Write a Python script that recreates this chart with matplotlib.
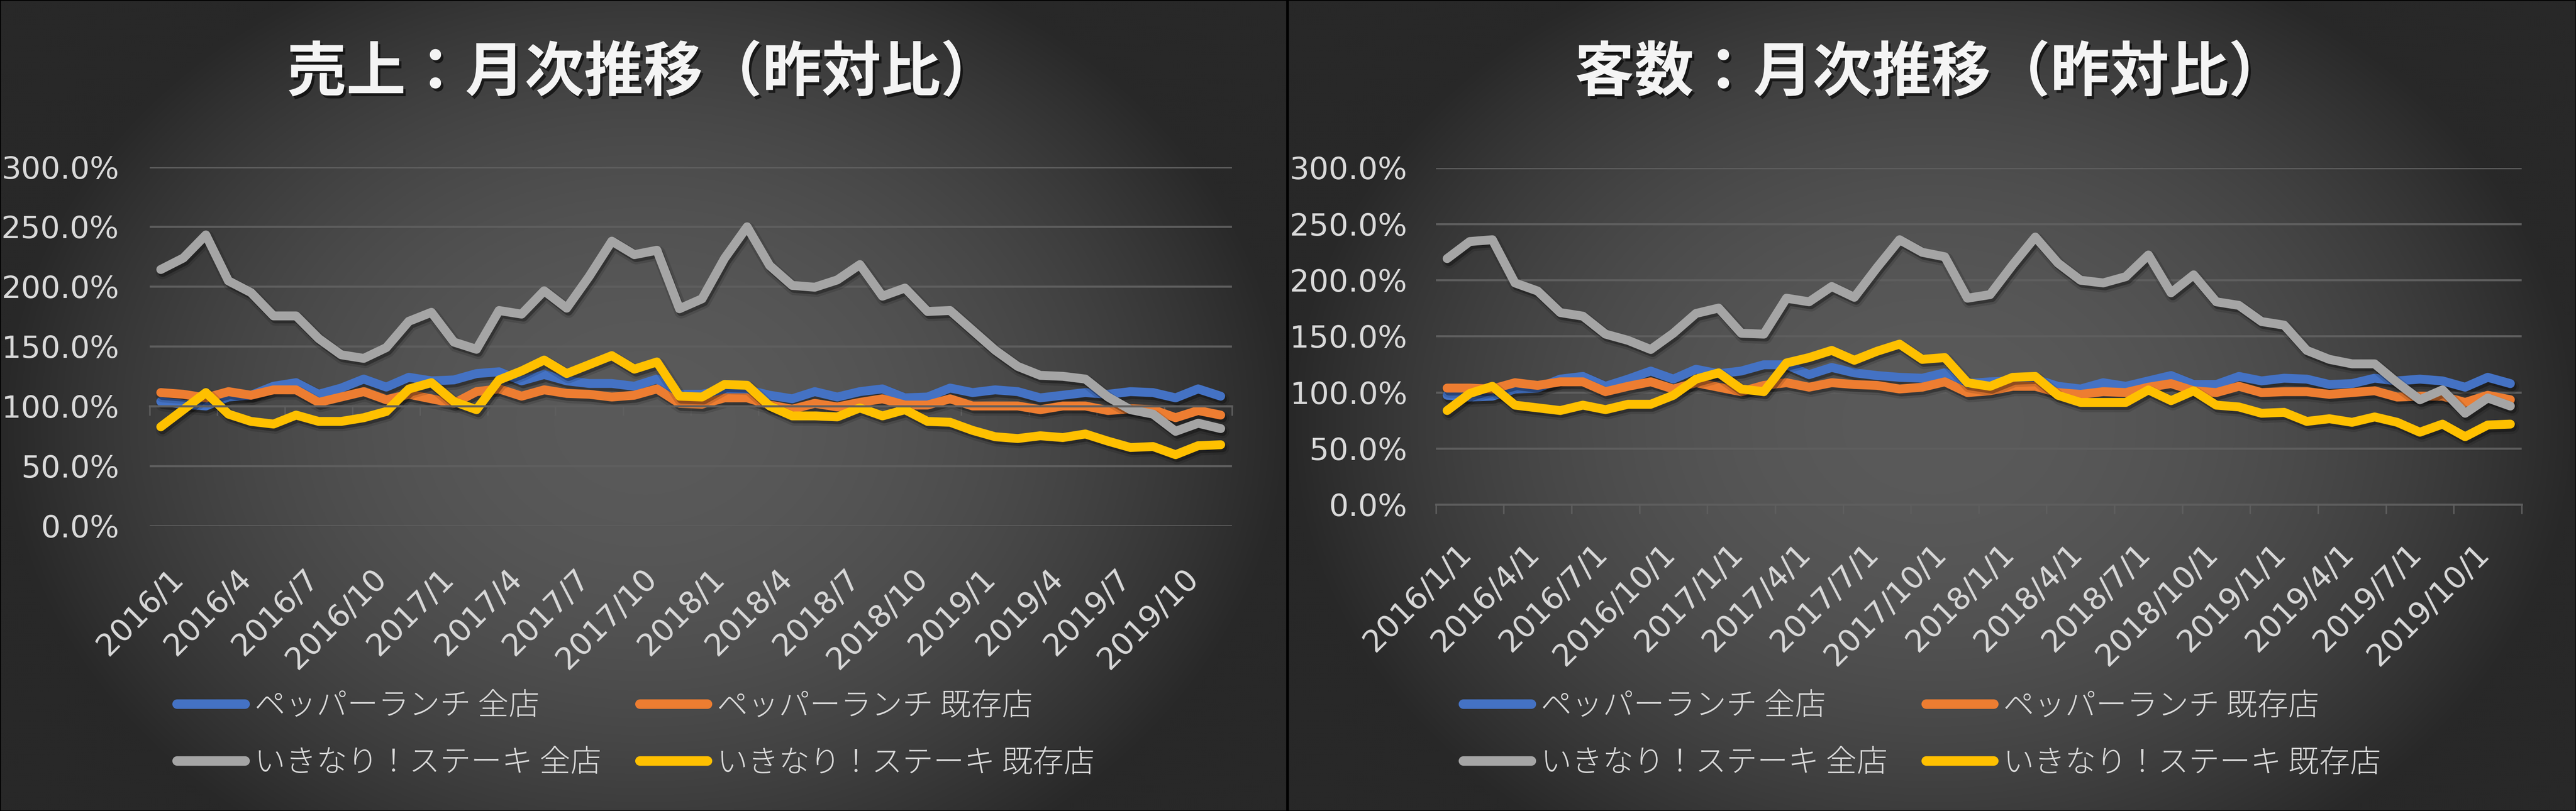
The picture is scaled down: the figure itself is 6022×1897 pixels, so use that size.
import numpy as np
import matplotlib
matplotlib.use('Agg')
import matplotlib.pyplot as plt
import matplotlib.patheffects as pe
from matplotlib.lines import Line2D
from matplotlib.patches import Rectangle
from matplotlib.transforms import ScaledTranslation

plt.rcParams['font.family'] = ['Noto Sans CJK JP', 'DejaVu Sans']

# ---- data (year-on-year %, monthly 2016/1 .. 2019/12) ----
sales_titles = '売上：月次推移（昨対比）'
customers_title = '客数：月次推移（昨対比）'
series_names = ['ペッパーランチ 全店', 'ペッパーランチ 既存店',
                'いきなり！ステーキ 全店', 'いきなり！ステーキ 既存店']

sales_labels = ['2016/1', '2016/4', '2016/7', '2016/10', '2017/1', '2017/4', '2017/7', '2017/10',
                '2018/1', '2018/4', '2018/7', '2018/10', '2019/1', '2019/4', '2019/7', '2019/10']
customers_labels = ['2016/1/1', '2016/4/1', '2016/7/1', '2016/10/1', '2017/1/1', '2017/4/1',
                    '2017/7/1', '2017/10/1', '2018/1/1', '2018/4/1', '2018/7/1', '2018/10/1',
                    '2019/1/1', '2019/4/1', '2019/7/1', '2019/10/1']

sales_pepper_all = [103.9, 101.7, 100.2, 107.7, 109.2, 116.7, 119.7, 110.0, 115.2, 122.7, 116.0, 124.2,
                    121.2, 122.0, 127.3, 128.8, 121.2, 126.5, 121.2, 119.0, 119.0, 116.7, 122.7, 110.0,
                    110.0, 113.7, 113.7, 109.2, 106.2, 112.2, 107.7, 112.2, 114.5, 107.0, 107.7, 115.2,
                    111.4, 113.7, 112.2, 107.0, 109.2, 111.4, 110.0, 112.2, 111.4, 107.0, 114.5, 108.4]
sales_pepper_existing = [111.4, 110.0, 107.0, 112.2, 109.2, 113.7, 113.7, 103.2, 107.7, 112.2, 105.4, 110.0,
                         106.2, 102.4, 112.2, 114.5, 108.4, 113.7, 110.7, 110.0, 107.7, 109.2, 114.5, 102.4,
                         101.7, 107.0, 107.0, 101.0, 97.5, 102.4, 99.4, 103.2, 106.2, 101.0, 101.0, 106.2,
                         100.2, 100.2, 100.2, 97.1, 100.2, 100.2, 96.4, 97.9, 97.1, 90.4, 96.4, 92.6]
sales_ikinari_all = [214.3, 223.9, 243.2, 204.8, 195.0, 175.5, 175.5, 156.6, 143.0, 140.0, 149.0, 171.0,
                     178.5, 153.6, 147.6, 180.0, 177.0, 196.5, 182.0, 208.6, 238.0, 226.7, 230.4, 181.5,
                     189.8, 223.6, 250.0, 217.6, 201.0, 199.5, 205.6, 218.4, 192.0, 198.8, 179.2, 180.0,
                     163.4, 146.8, 133.3, 125.8, 125.0, 122.7, 107.7, 97.1, 93.4, 79.0, 85.8, 81.3]
sales_ikinari_existing = [82.8, 97.1, 111.4, 93.4, 87.3, 85.1, 92.6, 87.3, 87.3, 90.4, 95.6, 114.4,
                          119.7, 103.9, 97.1, 122.0, 129.5, 138.6, 127.3, 134.8, 142.3, 131.0, 137.0, 108.4,
                          107.7, 118.2, 117.5, 100.2, 91.9, 91.9, 91.1, 98.6, 91.9, 97.1, 87.3, 86.6,
                          79.8, 74.5, 73.0, 75.3, 73.8, 76.8, 70.8, 65.5, 66.3, 59.5, 67.0, 67.8]

customers_pepper_all = [97.3, 95.7, 96.5, 102.9, 103.7, 111.7, 114.1, 105.3, 111.7, 118.9, 111.7, 120.5,
                        116.5, 118.9, 124.5, 124.5, 115.7, 122.1, 117.3, 114.9, 113.3, 112.5, 117.3, 107.7,
                        109.3, 110.1, 111.7, 105.3, 102.9, 108.5, 105.3, 110.1, 114.9, 106.9, 106.9, 114.1,
                        110.1, 112.5, 111.7, 106.9, 107.7, 112.5, 110.1, 111.7, 110.1, 104.5, 113.3, 107.7]
customers_pepper_existing = [103.7, 103.7, 102.9, 108.5, 106.1, 109.3, 109.3, 100.5, 105.3, 109.3, 102.9, 108.5,
                             104.5, 100.5, 106.1, 108.5, 104.5, 108.5, 106.9, 106.1, 102.9, 104.5, 109.3, 99.7,
                             101.3, 105.3, 105.3, 99.7, 98.1, 100.5, 99.7, 104.5, 107.7, 101.3, 99.7, 105.3,
                             99.7, 100.5, 100.5, 98.1, 99.7, 101.3, 95.7, 96.5, 96.5, 90.9, 97.3, 93.3]
customers_ikinari_all = [219.1, 234.3, 235.9, 197.4, 190.2, 171.0, 167.8, 151.8, 146.2, 138.1, 152.6, 170.2,
                         175.0, 152.6, 151.8, 183.8, 180.6, 194.2, 184.6, 211.0, 235.9, 224.7, 220.7, 183.8,
                         187.0, 213.5, 238.3, 215.1, 199.8, 197.4, 203.0, 222.3, 188.6, 204.6, 180.6, 177.4,
                         163.0, 159.8, 137.3, 129.3, 125.3, 125.3, 108.5, 93.3, 102.1, 81.3, 94.9, 87.7]
customers_ikinari_existing = [83.7, 98.9, 105.3, 88.5, 86.1, 83.7, 88.5, 84.5, 89.3, 89.3, 97.3, 111.7,
                              117.3, 102.9, 100.5, 126.1, 130.9, 137.3, 128.5, 136.5, 142.9, 129.3, 130.9, 108.5,
                              105.3, 113.3, 114.1, 97.3, 90.9, 90.9, 90.9, 102.1, 92.5, 101.3, 88.5, 86.9,
                              81.3, 82.1, 74.0, 76.4, 73.2, 78.0, 73.2, 64.4, 71.6, 60.4, 70.8, 71.6]

COLORS = ['#4472C4', '#ED7D31', '#A5A5A5', '#FFC000']
TEXT = '#d9d9d9'
GRID = '#5e5e5e'
NUM_FONT = ['Liberation Sans Narrow', 'DejaVu Sans']

W, H = 6022, 1897


def draw_background(fig):
    bg = fig.add_axes([0, 0, 1, 1], zorder=-10)
    bg.axis('off')
    h, w = 380, 1204
    yy, xx = np.mgrid[0:h, 0:w].astype(float)
    half = w / 2
    u = ((xx % half) - half / 2) / (half / 2)
    v = (yy - 0.52 * h) / (0.5 * h) * 0.8
    r2 = u ** 2 + v ** 2
    val = 40 + 50 * np.clip(1 - r2, 0, 1)
    img = np.dstack([val, val, val]) / 255.0
    bg.imshow(img, extent=[0, 1, 0, 1], aspect='auto', interpolation='bilinear')
    bg.set_xlim(0, 1)
    bg.set_ylim(0, 1)
    for x0, x1 in [(0, 3008 / W), (3011 / W, 1)]:
        fig.patches.append(Rectangle((x0, 0), x1 - x0, 1, transform=fig.transFigure,
                                     fill=False, edgecolor='black', lw=2.5))


def draw_panel(fig, rect, title, title_x, series, labels, cross, label_dx, label_dy, ypad, legend_x):
    ax = fig.add_axes(rect)
    ax.set_facecolor('none')
    n = len(series[0])
    x = np.arange(n)
    lw = 15
    for values, color in zip(series, COLORS):
        ax.plot(x, values, color=color, lw=lw, solid_joinstyle='round', solid_capstyle='round',
                path_effects=[pe.SimpleLineShadow(offset=(3, -5), shadow_color='black', alpha=0.12,
                                                  linewidth=lw + 8),
                              pe.SimpleLineShadow(offset=(3, -5), shadow_color='black', alpha=0.3),
                              pe.Normal()])

    ax.set_xlim(-0.5, n - 0.5)
    ax.set_ylim(0, 300)
    yt = np.arange(0, 301, 50)
    ax.set_yticks(yt, [f'{v:.1f}%' for v in yt], fontfamily=NUM_FONT, fontsize=52, color=TEXT)
    ax.tick_params(axis='y', length=0, pad=ypad)
    ax.grid(axis='y', color=GRID, lw=3.5)
    ax.set_axisbelow(True)
    for s in ['left', 'right', 'top']:
        ax.spines[s].set_visible(False)
    ax.spines['bottom'].set_position(('data', cross))
    ax.spines['bottom'].set_color(GRID)
    ax.spines['bottom'].set_linewidth(3.5)
    ax.set_xticks(np.arange(-0.5, n, 3))
    ax.tick_params(axis='x', length=16, width=2.5, color=GRID, labelbottom=False, direction='out')

    offset = ScaledTranslation(label_dx / 100, -label_dy / 100, fig.dpi_scale_trans)
    for i, lab in zip(range(0, n, 3), labels):
        ax.text(i, 0, lab, transform=ax.get_xaxis_transform() + offset, rotation=45,
                ha='right', va='top', rotation_mode='anchor', fontsize=52,
                fontfamily=NUM_FONT, color=TEXT)

    fig.text(title_x, 1 - 172 / H, title, ha='center', va='center', fontsize=100,
             fontweight='bold', color='#f4f4f4',
             path_effects=[pe.SimplePatchShadow(offset=(4, -5), shadow_rgbFace='black', alpha=0.6),
                           pe.Normal()])

    handles = [Line2D([], [], color=c, lw=16, solid_capstyle='round') for c in COLORS]
    order = [0, 2, 1, 3]
    leg = ax.legend([handles[k] for k in order], [series_names[k] for k in order], ncol=2,
                    loc='center left', bbox_to_anchor=(legend_x, 1 - 1718.5 / H),
                    bbox_transform=fig.transFigure, frameon=False,
                    prop={'size': 52, 'weight': 'light'}, handlelength=2.2, handletextpad=0.3,
                    columnspacing=1.25, labelspacing=0.8, borderpad=0, borderaxespad=0)
    for t in leg.get_texts():
        t.set_color(TEXT)
    return ax


def main():
    fig = plt.figure(figsize=(W / 100, H / 100), dpi=100)
    draw_background(fig)

    sales = [sales_pepper_all, sales_pepper_existing, sales_ikinari_all, sales_ikinari_existing]
    customers = [customers_pepper_all, customers_pepper_existing,
                 customers_ikinari_all, customers_ikinari_existing]

    draw_panel(fig, [349.5 / W, (H - 1230) / H, 2530.5 / W, 839.4 / H], sales_titles, 1504 / W,
               sales, sales_labels, 100, 18, 88, 51, 414 / W)
    draw_panel(fig, [3356.6 / W, (H - 1180) / H, 2538.4 / W, 787.5 / H], customers_title, 4515 / W,
               customers, customers_labels, 0, 22, 80, 48, 3421 / W)

    fig.savefig('out.png', dpi=100, facecolor='#2a2a2a')


if __name__ == '__main__':
    main()
